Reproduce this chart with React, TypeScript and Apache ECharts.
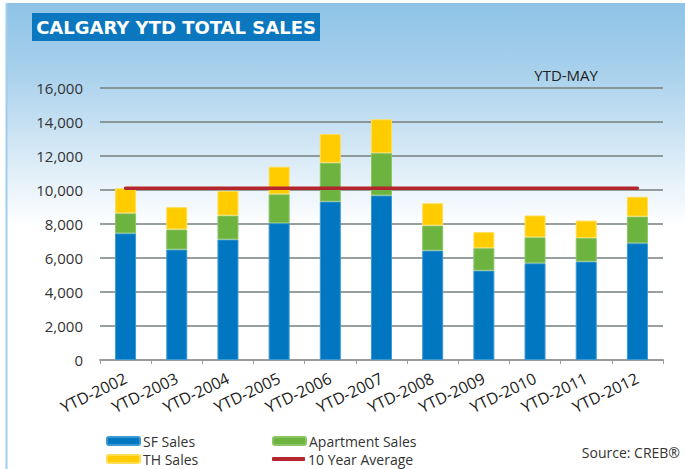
import React, { useEffect, useRef } from "react";
import * as echarts from "echarts";

const categories = [
  "YTD-2002", "YTD-2003", "YTD-2004", "YTD-2005", "YTD-2006", "YTD-2007",
  "YTD-2008", "YTD-2009", "YTD-2010", "YTD-2011", "YTD-2012",
];
const sfSales = [7450, 6500, 7090, 8050, 9320, 9680, 6440, 5260, 5690, 5790, 6870];
const apartmentSales = [1180, 1180, 1410, 1700, 2280, 2490, 1470, 1320, 1530, 1390, 1570];
const thSales = [1470, 1310, 1450, 1620, 1690, 1990, 1310, 940, 1280, 1020, 1160];
const tenYearAverage = [10100, 10100, 10100, 10100, 10100, 10100, 10100, 10100, 10100, 10100, 10100];
const yTicks = { min: 0, max: 16000, interval: 2000 };

const FONT = "'Open Sans', sans-serif";

const legendItem = (name: string, left: number, top: number, extra: any = {}) => ({
  left,
  top,
  padding: 0,
  itemWidth: 33,
  itemHeight: 8,
  data: [name],
  textStyle: { fontSize: 14, lineHeight: 14, color: "#333", fontFamily: FONT, padding: [0, 0, 0, -2] },
  ...extra,
});

export default function App() {
  const ref = useRef<HTMLDivElement>(null);
  useEffect(() => {
    document.body.style.margin = "0";
    if (!ref.current) return;
    const chart = echarts.init(ref.current, null, { renderer: "svg" });
    const barBase = { type: "bar", stack: "total", barWidth: 21 };
    chart.setOption({
      animation: false,
      backgroundColor: "#ffffff",
      textStyle: { fontFamily: FONT },
      graphic: [
        {
          type: "rect",
          z: -10,
          silent: true,
          shape: { x: 6, y: 3, width: 679, height: 466 },
          style: {
            fill: new echarts.graphic.LinearGradient(0, 0, 0, 1, [
              { offset: 0, color: "#8ec3e6" },
              { offset: 0.15, color: "#a9d1ec" },
              { offset: 0.32, color: "#d6e9f6" },
              { offset: 0.48, color: "#ffffff" },
              { offset: 1, color: "#ffffff" },
            ]),
          },
        },
        {
          type: "line",
          z: -9,
          silent: true,
          shape: { x1: 6.5, y1: 3, x2: 6.5, y2: 469 },
          style: { stroke: "#9fcdee", lineWidth: 2 },
        },
        {
          type: "rect",
          shape: { x: 32, y: 13, width: 288, height: 28 },
          style: { fill: "#0a77bf" },
        },
        {
          type: "text",
          x: 176,
          y: 27.5,
          style: {
            text: "CALGARY YTD TOTAL SALES",
            fill: "#ffffff",
            font: "bold 18px 'DejaVu Sans', sans-serif",
            textAlign: "center",
            textVerticalAlign: "middle",
          },
        },
        {
          type: "text",
          x: 598,
          y: 75,
          style: {
            text: "YTD-MAY",
            fill: "#222222",
            font: "15px 'Open Sans', sans-serif",
            textAlign: "right",
            textVerticalAlign: "middle",
          },
        },
        {
          type: "text",
          x: 680,
          y: 452,
          style: {
            text: "Source: CREB®",
            fill: "#333333",
            font: "14px 'Open Sans', sans-serif",
            textAlign: "right",
            textVerticalAlign: "middle",
          },
        },
      ],
      grid: { left: 100, right: 22, top: 88, bottom: 109, containLabel: false },
      legend: [
        legendItem("SF Sales", 106, 434),
        legendItem("TH Sales", 106, 452),
        legendItem("Apartment Sales", 272, 434),
        legendItem("10 Year Average", 272, 452, { itemHeight: 4, icon: "roundRect" }),
      ],
      xAxis: {
        type: "category",
        data: categories,
        boundaryGap: true,
        axisLine: { show: true, lineStyle: { color: "#9a9a9a", width: 2 } },
        axisTick: { show: true, length: 4, lineStyle: { color: "#9a9a9a", width: 1 } },
        axisLabel: {
          rotate: 26,
          margin: 17,
          fontSize: 16,
          color: "#222",
          fontFamily: FONT,
          interval: 0,
        },
      },
      yAxis: {
        type: "value",
        min: yTicks.min,
        max: yTicks.max,
        interval: yTicks.interval,
        axisLine: { show: false },
        axisTick: { show: false },
        splitLine: { lineStyle: { color: "#76807f", width: 1.5 } },
        axisLabel: {
          margin: 17,
          fontSize: 15,
          color: "#333",
          fontFamily: FONT,
          formatter: (v: number) => v.toLocaleString("en-US"),
        },
      },
      series: [
        {
          ...barBase,
          name: "SF Sales",
          data: sfSales,
          itemStyle: { color: "#0077c0", borderColor: "#3c98d2", borderWidth: 1 },
        },
        {
          ...barBase,
          name: "Apartment Sales",
          data: apartmentSales,
          itemStyle: { color: "#6db33f", borderColor: "#8cc466", borderWidth: 1 },
        },
        {
          ...barBase,
          name: "TH Sales",
          data: thSales,
          itemStyle: { color: "#ffcc00", borderColor: "#ffdd55", borderWidth: 1 },
        },
        {
          type: "line",
          name: "10 Year Average",
          data: tenYearAverage,
          symbol: "none",
          z: 5,
          lineStyle: { color: "#b3262d", width: 3.5, cap: "round" },
          itemStyle: { color: "#b3262d" },
        },
      ],
    });
    return () => chart.dispose();
  }, []);
  return <div ref={ref} style={{ width: 685, height: 469 }} />;
}
